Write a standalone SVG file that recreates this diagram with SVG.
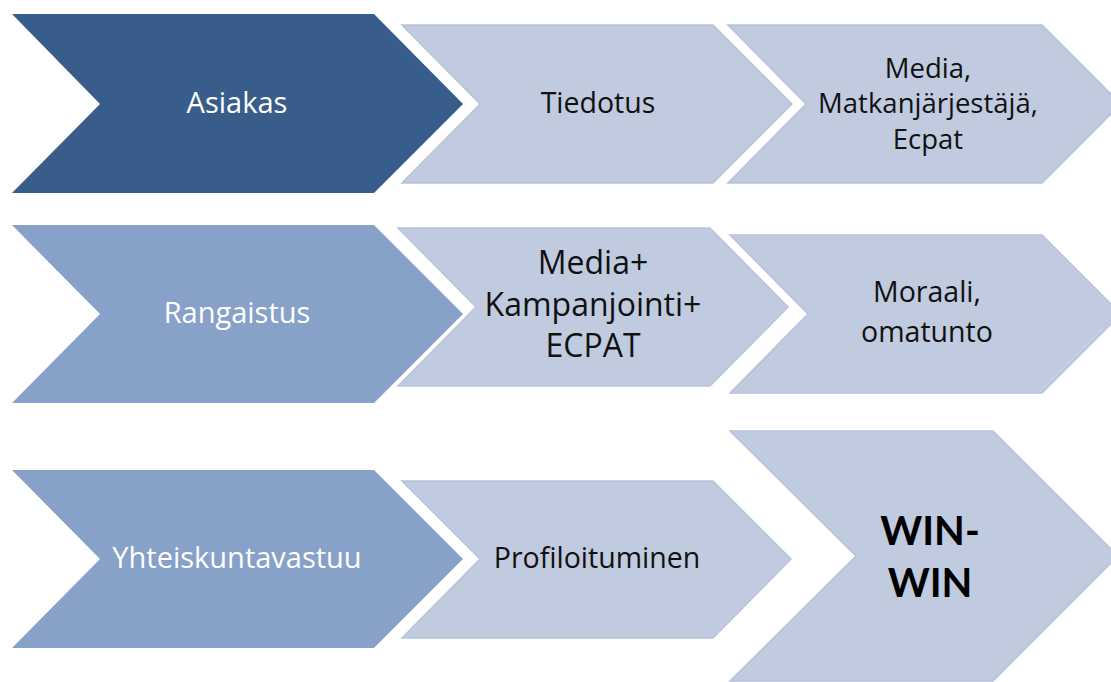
<svg xmlns="http://www.w3.org/2000/svg" width="1111" height="682" viewBox="0 0 1111 682">
  <style>
    .dark { fill: #385d8a; }
    .mid { fill: #87a1c8; }
    .light { fill: #c0cbdf; stroke: #b7c3da; stroke-width: 1.5; }
    text { font-family: "Open Sans", Lato, "Liberation Sans", sans-serif; text-anchor: middle; }
    .w { fill: #ffffff; font-size: 29px; }
    .k { fill: #111111; font-size: 28.5px; }
    .ks { fill: #111111; font-size: 27.5px; }
    .kl { fill: #111111; font-size: 32px; }
    .b { fill: #000000; font-size: 40px; font-weight: bold; font-family: Lato, "Open Sans", sans-serif; }
  </style>
  <rect width="1111" height="682" fill="#ffffff"/>

  <!-- Row 1 -->
  <g id="asiakas">
    <polygon class="dark" points="12,14 374,14 463,104 374,193 12,193 100,104"/>
    <text class="w" x="237" y="113">Asiakas</text>
  </g>
  <g id="tiedotus">
    <polygon class="light" points="402,25 713,25 792,104 713,183 402,183 480,104"/>
    <text class="k" x="598" y="113">Tiedotus</text>
  </g>
  <g id="media">
    <polygon class="light" points="728,25 1042,25 1121,104 1042,183 728,183 806,104"/>
    <text class="ks" x="928" y="78">Media,</text>
    <text class="ks" x="928" y="113">Matkanjärjestäjä,</text>
    <text class="ks" x="928" y="149">Ecpat</text>
  </g>

  <!-- Row 2 -->
  <g id="rangaistus">
    <polygon class="mid" points="12,225 374,225 463,314 374,403 12,403 100,314"/>
    <text class="w" x="237" y="323">Rangaistus</text>
  </g>
  <g id="kampanjointi">
    <polygon class="light" points="398,228 710,228 788,307 710,386 398,386 476,307"/>
    <text class="kl" x="593" y="274">Media+</text>
    <text class="kl" x="593" y="316">Kampanjointi+</text>
    <text class="kl" x="593" y="357">ECPAT</text>
  </g>
  <g id="moraali">
    <polygon class="light" points="730,235 1042,235 1121,314 1042,393 730,393 808,314"/>
    <text class="k" x="927" y="302">Moraali,</text>
    <text class="k" x="927" y="342">omatunto</text>
  </g>

  <!-- Row 3 -->
  <g id="yhteiskuntavastuu">
    <polygon class="mid" points="12,470 374,470 463,559 374,648 12,648 100,559"/>
    <text class="w" x="237" y="568">Yhteiskuntavastuu</text>
  </g>
  <g id="profiloituminen">
    <polygon class="light" points="402,481 713,481 791,559 713,638 402,638 480,559"/>
    <text class="k" x="597" y="568">Profiloituminen</text>
  </g>
  <g id="winwin">
    <polygon class="light" points="730,431 993,431 1118,556 993,681 730,681 856,556"/>
    <text class="b" x="930" y="545">WIN-</text>
    <text class="b" x="930" y="597">WIN</text>
  </g>
</svg>
